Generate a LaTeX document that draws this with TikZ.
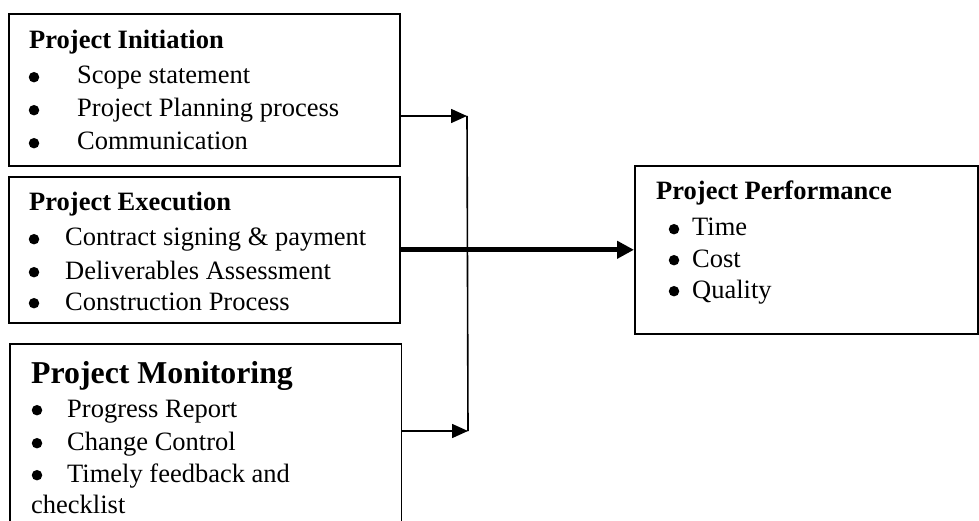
\documentclass[tikz,border=0pt]{standalone}
\usepackage{fontspec}
\setmainfont{Liberation Serif}
\usetikzlibrary{arrows.meta}
\begin{document}
\begin{tikzpicture}[x=1pt,y=-1pt,
  box/.style={draw, line width=1.6pt, inner sep=0, anchor=north west},
  frame/.style={inner sep=0, anchor=north west},
  txt/.style={anchor=base west, inner sep=0, font=\fontsize{26.5}{30}\selectfont},
  ttl/.style={anchor=base west, inner sep=0, font=\fontsize{26.5}{30}\selectfont\bfseries},
  bigttl/.style={anchor=base west, inner sep=0, font=\fontsize{31.8}{36}\selectfont\bfseries},
  bul/.style={circle, fill, inner sep=0, minimum size=10.5pt, yshift=6.8pt},
  thinarrow/.style={line width=1.6pt, -{Triangle[length=16pt,width=14pt]}},
  thickarrow/.style={line width=5pt, -{Triangle[length=17pt,width=17pt]}},
  joinline/.style={line width=1.6pt}]
\useasboundingbox (0,0) rectangle (979,521);
% boxes
\node[box, minimum width=391pt, minimum height=152pt] (init) at (8,13) {};
\node[box, minimum width=391pt, minimum height=146pt] (exe) at (8,176) {};
\node[frame, minimum width=391pt, minimum height=177pt] (mon) at (10,344) {};
\draw[line width=1.6pt] (mon.south west) -- (mon.north west) -- (mon.north east) -- (mon.south east);
\node[box, minimum width=343pt, minimum height=168pt] (perf) at (634,165) {};
% Initiation
\node[ttl] (t1) at (29,49) {Project Initiation};
\node[bul] (b11) at (34,84) {};
\node[txt] (i11) at (77,84) {Scope statement};
\node[bul] (b12) at (34,117) {};
\node[txt] (i12) at (77,117) {Project Planning process};
\node[bul] (b13) at (34,150) {};
\node[txt] (i13) at (77,150) {Communication};
% Execution
\node[ttl] (t2) at (29,211) {Project Execution};
\node[bul] (b21) at (34,246) {};
\node[txt] (i21) at (65,246) {Contract signing \& payment};
\node[bul] (b22) at (34,279) {};
\node[txt] (i22) at (65,279) {Deliverables Assessment};
\node[bul] (b23) at (34,310) {};
\node[txt] (i23) at (65,310) {Construction Process};
% Monitoring
\node[bigttl] (t3) at (31,383) {Project Monitoring};
\node[bul] (b31) at (37,417) {};
\node[txt] (i31) at (67,417) {Progress Report};
\node[bul] (b32) at (37,450) {};
\node[txt] (i32) at (67,450) {Change Control};
\node[bul] (b33) at (37,482) {};
\node[txt] (i33) at (67,482) {Timely feedback and};
\node[txt] (i34) at (31,513) {checklist};
% Performance
\node[ttl] (t4) at (656,200) {Project Performance};
\node[bul] (b41) at (674,236) {};
\node[txt] (i41) at (692,236) {Time};
\node[bul] (b42) at (674,267) {};
\node[txt] (i42) at (692,267) {Cost};
\node[bul] (b43) at (674,298) {};
\node[txt] (i43) at (692,298) {Quality};
% connectors
\coordinate (ja) at (467,116);
\coordinate (jb) at (468,431);
\draw[thinarrow] (init.east |- ja) -- (ja);
\draw[joinline] (ja) -- (jb);
\draw[thinarrow] (mon.east |- jb) -- (jb);
\draw[thickarrow] (exe.east) -- (perf.west);
\end{tikzpicture}
\end{document}
